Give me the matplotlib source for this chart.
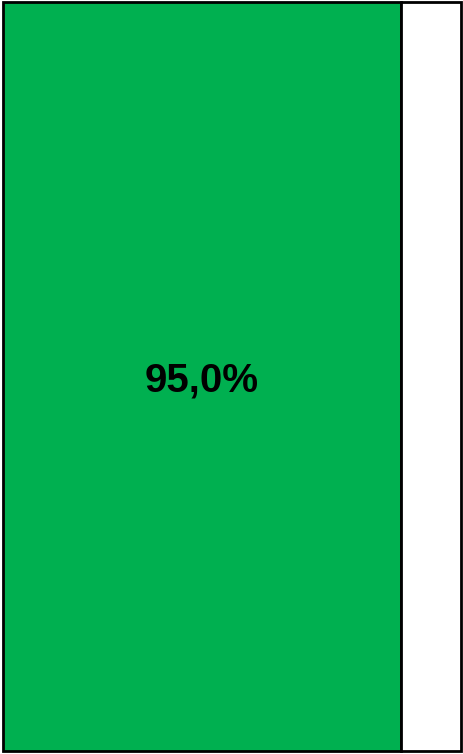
import matplotlib
matplotlib.use("Agg")
import matplotlib.pyplot as plt

# single stacked bar: filled share and remainder
labels = ["Goal"]
filled = [95.0]
rest = [14.3]
value_text = ["95,0%"]

W, H = 464, 754
fig = plt.figure(figsize=(W / 100, H / 100), dpi=100)
ax = fig.add_axes([3 / W, 3 / H, 458 / W, 749 / H])

ax.barh(labels, filled, height=1.0, color="#00B050", edgecolor="black",
        linewidth=2.0, clip_on=False)
ax.barh(labels, rest, left=filled, height=1.0, color="white", edgecolor="black",
        linewidth=2.0, clip_on=False)

ax.set_xlim(0, filled[0] + rest[0])
ax.set_ylim(-0.5, 0.5)
ax.axis("off")

ax.text(filled[0] / 2, -0.006, value_text[0], ha="center", va="center",
        fontsize=29, fontweight="bold", family="Liberation Sans", color="black")

fig.savefig("out.png", dpi=100)
